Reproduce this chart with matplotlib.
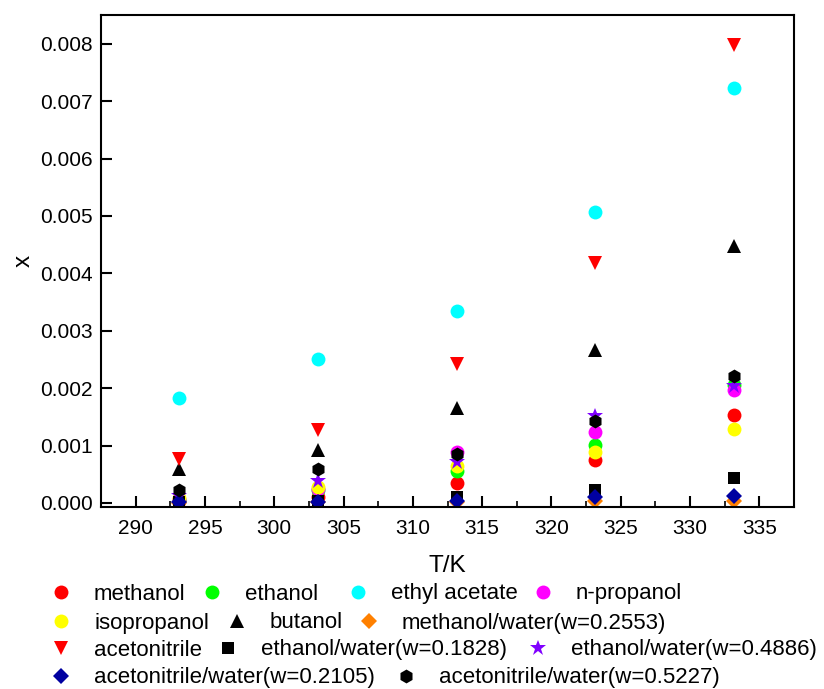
import matplotlib
matplotlib.use('Agg')
import matplotlib.pyplot as plt
from matplotlib.ticker import MultipleLocator

plt.rcParams['font.family'] = ['Liberation Sans', 'DejaVu Sans']
plt.rcParams['font.size'] = 15

# Temperatures (K)
T = [293.15, 303.15, 313.15, 323.15, 333.15]

# Mole fraction solubility
methanol = [0.00003, 0.00010, 0.00034, 0.00074, 0.00154]
ethanol = [0.00006, 0.00023, 0.00056, 0.00101, 0.00205]
ethyl_acetate = [0.00182, 0.00251, 0.00335, 0.00506, 0.00722]
n_propanol = [0.00007, 0.00025, 0.00089, 0.00123, 0.00197]
isopropanol = [0.00009, 0.00028, 0.00064, 0.00088, 0.00128]
butanol = [0.00060, 0.00093, 0.00166, 0.00266, 0.00448]
methanol_water = [0.000005, 0.00001, 0.00002, 0.00003, 0.00004]
acetonitrile = [0.00077, 0.00127, 0.00242, 0.00418, 0.00798]
ethanol_water_1828 = [0.00002, 0.00004, 0.00010, 0.00022, 0.00043]
ethanol_water_4886 = [0.00013, 0.00038, 0.00071, 0.00152, 0.00204]
acn_water_2105 = [0.00001, 0.00002, 0.00004, 0.00010, 0.00012]
acn_water_5227 = [0.00023, 0.00060, 0.00085, 0.00142, 0.00221]

series = [
    ('methanol', methanol, 'o', '#FF0000'),
    ('ethanol', ethanol, 'o', '#00FF00'),
    ('ethyl acetate', ethyl_acetate, 'o', '#00FFFF'),
    ('n-propanol', n_propanol, 'o', '#FF00FF'),
    ('isopropanol', isopropanol, 'o', '#FFFF00'),
    ('butanol', butanol, '^', '#000000'),
    ('methanol/water(w=0.2553)', methanol_water, 'D', '#FF8000'),
    ('acetonitrile', acetonitrile, 'v', '#FF0000'),
    ('ethanol/water(w=0.1828)', ethanol_water_1828, 's', '#000000'),
    ('ethanol/water(w=0.4886)', ethanol_water_4886, '*', '#8000FF'),
    ('acetonitrile/water(w=0.2105)', acn_water_2105, 'D', '#0000A0'),
    ('acetonitrile/water(w=0.5227)', acn_water_5227, 'h', '#000000'),
]
msize = {'o': 10, '^': 10, 'v': 10, 'D': 8, 's': 8, '*': 12, 'h': 10}

W, H = 824, 689
fig = plt.figure(figsize=(W / 100, H / 100), dpi=100)
ax = fig.add_axes([101 / W, 1 - 507 / H, (794 - 101) / W, (507 - 15) / H])

handles = {}
for name, y, m, c in series:
    ln, = ax.plot(T, y, linestyle='none', marker=m, color=c, markersize=msize[m],
                  markeredgewidth=0)
    handles[name] = ln

ax.set_xlim(287.5, 337.5)
ax.set_ylim(-0.00007, 0.0085)
ax.xaxis.set_major_locator(MultipleLocator(5))
ax.xaxis.set_minor_locator(MultipleLocator(2.5))
ax.yaxis.set_major_locator(MultipleLocator(0.001))
ax.yaxis.set_major_formatter(matplotlib.ticker.FormatStrFormatter('%.3f'))
ax.tick_params(direction='in', which='major', length=8, width=1.5, labelsize=15)
ax.tick_params(direction='in', which='minor', length=4, width=1.2)
ax.tick_params(axis='x', pad=9)
ax.tick_params(axis='y', pad=6)
for s in ax.spines.values():
    s.set_linewidth(1.5)
ax.set_xlabel('T/K', fontsize=17.5, labelpad=12)
ax.set_ylabel('x', fontsize=17.5, labelpad=4)

# Origin-style flowing legend: (label, marker x px, row y px)
legend_pos = [
    ('methanol', 61, 594), ('ethanol', 212, 594),
    ('ethyl acetate', 358, 594), ('n-propanol', 543, 594),
    ('isopropanol', 61, 623), ('butanol', 237, 623),
    ('methanol/water(w=0.2553)', 369, 623),
    ('acetonitrile', 61, 650), ('ethanol/water(w=0.1828)', 228, 650),
    ('ethanol/water(w=0.4886)', 538, 650),
    ('acetonitrile/water(w=0.2105)', 61, 678),
    ('acetonitrile/water(w=0.5227)', 406, 678),
]
fs = 16
px = fs * 100 / 72
for name, mx, my in legend_pos:
    fig.legend([handles[name]], [name], loc='center left',
               bbox_to_anchor=((mx - px / 2) / W, 1 - my / H),
               frameon=False, fontsize=fs, handlelength=1.0,
               handletextpad=(33 - px / 2) / px, borderpad=0, borderaxespad=0,
               numpoints=1)

fig.savefig('out.png', dpi=100)
